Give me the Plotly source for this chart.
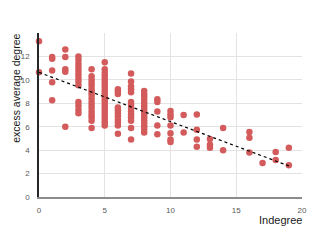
import numpy as np
import plotly.graph_objects as go

# Indegree values (x) and corresponding excess average degree values (y), grouped by column
col_x = [0, 1, 2, 3, 4, 5, 6, 7, 8, 9, 10, 11, 12, 13, 14, 16, 17, 18, 19]
col_y = [
    [13.3, 10.65],
    [11.95, 11.8, 10.8, 9.8, 8.25],
    [12.6, 11.95, 10.9, 10.7, 6.0],
    [12.0, 11.7, 11.35, 11.05, 10.75, 10.45, 10.15, 9.85, 9.55, 8.1, 7.8, 7.45, 7.15],
    [10.9, 10.3, 10.0, 9.75, 9.5, 9.2, 8.95, 8.7, 8.4, 8.1, 7.85, 7.6, 7.3, 7.05, 6.8, 6.5, 5.9],
    [11.5, 10.9, 10.6, 10.35, 10.1, 9.85, 9.6, 9.35, 9.1, 8.85, 8.6, 8.35, 8.1, 7.85, 7.6,
     7.35, 7.1, 6.85, 6.6, 6.35, 6.1],
    [9.2, 9.0, 8.8, 7.65, 7.4, 7.15, 6.9, 6.6, 6.35, 6.1, 5.4],
    [10.55, 9.85, 9.45, 9.2, 8.95, 8.1, 7.85, 7.6, 7.3, 7.05, 6.8, 6.5, 5.9, 4.9],
    [9.05, 8.8, 8.55, 8.3, 8.05, 7.8, 7.55, 7.3, 7.05, 6.8, 6.55, 6.3, 6.05, 5.8, 5.5],
    [8.35, 8.1, 7.3, 6.1, 5.35],
    [7.35, 7.05, 6.8, 6.1, 5.45, 4.9, 4.7],
    [7.0, 5.5],
    [7.05, 5.75, 4.9, 4.3],
    [4.95, 4.45, 4.2],
    [5.9, 4.0],
    [5.55, 5.05, 3.8],
    [2.9],
    [3.85, 3.15],
    [4.2, 2.7],
]

x_vals = [cx for cx, ys in zip(col_x, col_y) for _ in ys]
y_vals = [v for ys in col_y for v in ys]

x_ticks = [0, 5, 10, 15, 20]
y_ticks = [0, 2, 4, 6, 8, 10, 12]

# linear trendline computed from the data
slope, intercept = np.polyfit(x_vals, y_vals, 1)
tx = np.array([min(x_vals), max(x_vals)])
ty = slope * tx + intercept

fig = go.Figure()
fig.add_trace(go.Scatter(
    x=x_vals, y=y_vals, mode="markers",
    marker=dict(color="#D35B5B", size=6.5, line=dict(width=0)),
    cliponaxis=False, showlegend=False,
))
fig.add_trace(go.Scatter(
    x=tx, y=ty, mode="lines",
    line=dict(color="black", width=1.2, dash="dot"),
    showlegend=False,
))

tick_font = dict(family="Liberation Sans, Arial, sans-serif", size=8, color="#595959")

# page body has an 8px default margin; figure is sized so the plot area lands where the reference has it
fig.update_layout(
    width=309, height=237,
    margin=dict(l=31, r=15, t=25, b=48, autoexpand=False),
    paper_bgcolor="white", plot_bgcolor="white",
    xaxis=dict(
        range=[0, 20], tickvals=x_ticks, showgrid=True, gridcolor="#E3E3E3", gridwidth=1,
        zeroline=False, showline=True, linecolor="#8C8C8C", linewidth=2,
        tickfont=tick_font, ticks="", ticklabelstandoff=4, automargin=False,
    ),
    yaxis=dict(
        range=[0, 14], tickvals=y_ticks, showgrid=True, gridcolor="#E3E3E3", gridwidth=1,
        zeroline=False, showline=True, linecolor="#262626", linewidth=1.5,
        tickfont=tick_font, ticks="", ticklabelstandoff=6, automargin=False,
    ),
    annotations=[
        dict(text="excess average degree", xref="paper", yref="paper",
             x=-0.088, y=0.665, textangle=-90, showarrow=False,
             xanchor="center", yanchor="middle",
             font=dict(family="Liberation Sans, Arial, sans-serif", size=10.5, color="#1a1a1a")),
        dict(text="Indegree", xref="paper", yref="paper",
             x=1.008, y=-0.142, showarrow=False,
             xanchor="right", yanchor="middle",
             font=dict(family="Liberation Sans, Arial, sans-serif", size=11, color="#1a1a1a")),
    ],
)

fig.write_html("out.html")
